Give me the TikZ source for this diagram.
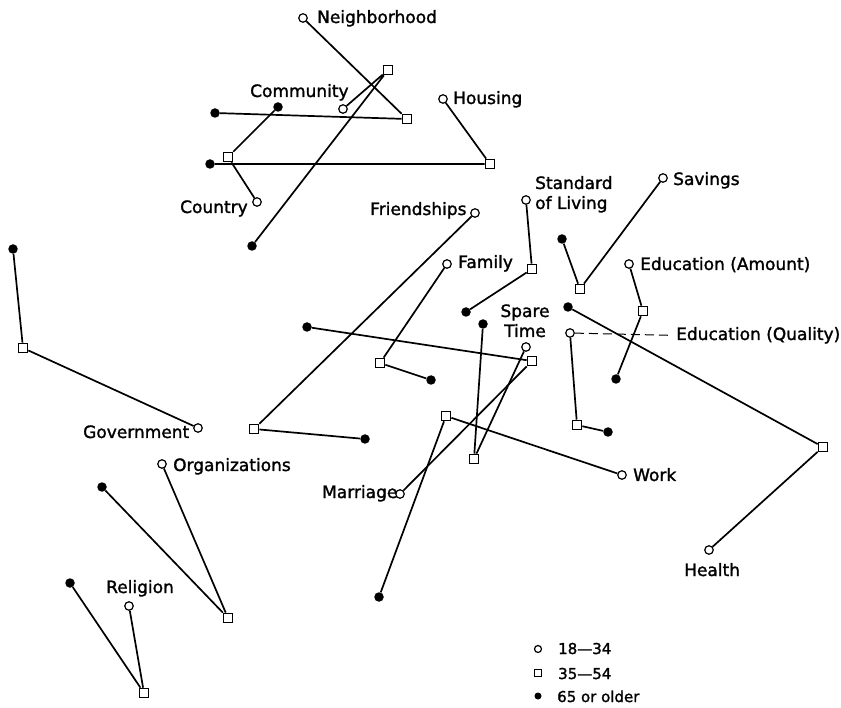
\documentclass[tikz,border=0pt]{standalone}
\usepackage{fontspec}
\setmainfont{DejaVu Sans}[RawFeature={embolden=1.5}]
\begin{document}
\begin{tikzpicture}[x=1pt,y=-1pt,
  yc/.style={circle,draw,fill=white,line width=1.2pt,inner sep=0pt,minimum size=8.5pt},
  mc/.style={rectangle,draw,fill=white,line width=1.2pt,inner sep=0pt,minimum size=9.5pt},
  oc/.style={circle,fill=black,inner sep=0pt,minimum size=9.5pt},
  conn/.style={line width=1.7pt},
  lbl/.style={font=\fontsize{17}{20}\selectfont,inner sep=0pt,anchor=base west},
  leg/.style={font=\fontsize{15}{18}\selectfont,inner sep=0pt,anchor=base west},
]
\useasboundingbox (0,0) rectangle (841,708);
% Neighborhood
\node[yc] (nb1) at (303,18) {};
\node[mc] (nb2) at (407,119) {};
\node[oc] (nb3) at (215,113) {};
% Community
\node[yc] (cm1) at (343,109) {};
\node[mc] (cm2) at (388,70) {};
\node[oc] (cm3) at (252,246) {};
% Country
\node[yc] (ct1) at (257,202) {};
\node[mc] (ct2) at (228,157) {};
\node[oc] (ct3) at (278,107) {};
% Housing
\node[yc] (hs1) at (443,99) {};
\node[mc] (hs2) at (490,164) {};
\node[oc] (hs3) at (210,164) {};
% Friendships
\node[yc] (fr1) at (475,213) {};
\node[mc] (fr2) at (254,429) {};
\node[oc] (fr3) at (365,439) {};
% Standard of Living
\node[yc] (sl1) at (526,200) {};
\node[mc] (sl2) at (532,269) {};
\node[oc] (sl3) at (466,312) {};
% Family
\node[yc] (fa1) at (447,264) {};
\node[mc] (fa2) at (380,363) {};
\node[oc] (fa3) at (431,380) {};
% Savings
\node[yc] (sv1) at (663,178) {};
\node[mc] (sv2) at (580,289) {};
\node[oc] (sv3) at (562,239) {};
% Education (Amount)
\node[yc] (ea1) at (629,264) {};
\node[mc] (ea2) at (643,311) {};
\node[oc] (ea3) at (616,379) {};
% Education (Quality)
\node[yc] (eq1) at (570,333) {};
\node[mc] (eq2) at (577,425) {};
\node[oc] (eq3) at (608,432) {};
% Health
\node[yc] (he1) at (709,550) {};
\node[mc] (he2) at (823,447) {};
\node[oc] (he3) at (568,307) {};
% Spare Time
\node[yc] (st1) at (526,347) {};
\node[mc] (st2) at (474,459) {};
\node[oc] (st3) at (483,324) {};
% Marriage
\node[yc] (ma1) at (400,494) {};
\node[mc] (ma2) at (532,361) {};
\node[oc] (ma3) at (307,327) {};
% Work
\node[yc] (wo1) at (622,475) {};
\node[mc] (wo2) at (446,416) {};
\node[oc] (wo3) at (379,597) {};
% Government
\node[yc] (go1) at (198,428) {};
\node[mc] (go2) at (23,348) {};
\node[oc] (go3) at (13,249) {};
% Organizations
\node[yc] (or1) at (162,464) {};
\node[mc] (or2) at (228,618) {};
\node[oc] (or3) at (102,487) {};
% Religion
\node[yc] (re1) at (129,606) {};
\node[mc] (re2) at (144,693) {};
\node[oc] (re3) at (70,583) {};
% connectors
\foreach \d in {nb,cm,ct,hs,fr,sl,fa,sv,ea,eq,he,st,ma,wo,go,or,re}{
  \draw[conn] (\d1) -- (\d2) -- (\d3);
}
% labels
\node[lbl] (lnb) at (317,23) {Neighborhood};
\node[lbl] (lcm) at (250,97) {Community};
\node[lbl] (lhs) at (453,104) {Housing};
\node[lbl] (lct) at (180,213) {Country};
\node[lbl] (lfr) at (370,215) {Friendships};
\node[lbl,align=left] (lsl) at (535,209) {Standard\\of Living};
\node[lbl] (lsv) at (673,185) {Savings};
\node[lbl] (lfa) at (458,268) {Family};
\node[lbl] (lea) at (640,270) {Education (Amount)};
\node[lbl,align=center,anchor=base] (lst) at (525,337) {Spare\\Time};
\node[lbl] (leq) at (676,340) {Education (Quality)};
\node[lbl] (lgo) at (83,438) {Government};
\node[lbl] (lor) at (173,471) {Organizations};
\node[lbl] (lma) at (322,498) {Marriage};
\node[lbl] (lwo) at (633,481) {Work};
\node[lbl] (lhe) at (684,576) {Health};
\node[lbl] (lre) at (106,593) {Religion};
\draw[line width=1pt,dash pattern=on 9pt off 5pt] (eq1) -- ([xshift=-6pt]leq.west);
% legend
\node[yc,minimum size=7pt] (k1) at (538,649) {};
\node[mc,minimum size=7.5pt] (k2) at (538,673) {};
\node[oc,minimum size=7pt] (k3) at (538,696) {};
\node[leg] (t1) at (558,654) {18—34};
\node[leg] (t2) at (558,679) {35—54};
\node[leg] (t3) at (557,702) {65 or older};
\end{tikzpicture}
\end{document}
